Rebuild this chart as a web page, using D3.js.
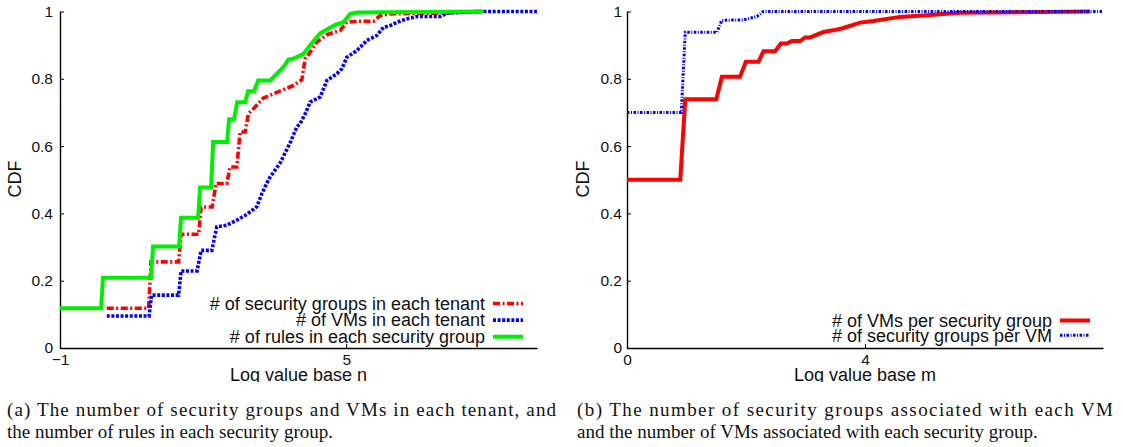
<!DOCTYPE html>
<html><head><meta charset="utf-8">
<script src="https://cdn.jsdelivr.net/npm/d3@7"></script>
<style>
html,body{margin:0;padding:0;background:#fff;}
svg{display:block;}
.tick text{font-family:"Liberation Sans",Arial,sans-serif;font-size:15.5px;fill:#111;}
</style></head>
<body>
<svg id="chart" width="1123" height="447"></svg>
<script>
// ---------- DATA ----------
// Left panel (a): x = log value base n, y = CDF
const secGroupsPerTenantX = [-0.02,0.857,0.909,1.486,1.538,1.905,1.958,2.189,2.273,2.497,2.566,2.707,2.776,2.881,2.950,3.055,3.265,3.405,3.684,3.894,4.070,4.140,4.245,4.385,4.595,4.874,5.014,5.224,5.572,5.713,5.923,6.902,7.874];
const secGroupsPerTenantY = [0.118,0.118,0.256,0.256,0.338,0.338,0.419,0.419,0.489,0.489,0.538,0.538,0.642,0.642,0.696,0.711,0.743,0.751,0.768,0.780,0.797,0.860,0.879,0.909,0.931,0.944,0.968,0.971,0.971,0.988,0.993,0.995,1.0];
const vmsPerTenantX = [-0.02,0.867,0.919,1.486,1.538,1.874,1.958,2.182,2.287,2.497,2.707,2.917,3.126,3.237,3.336,3.405,3.615,3.825,3.965,4.035,4.140,4.245,4.454,4.595,4.804,4.909,5.014,5.224,5.434,5.644,5.782,5.923,6.063,6.273,6.483,6.972,7.112,7.741,9.0];
const vmsPerTenantY = [0.095,0.095,0.157,0.157,0.229,0.229,0.290,0.290,0.360,0.365,0.380,0.397,0.420,0.460,0.490,0.508,0.550,0.610,0.657,0.667,0.696,0.731,0.746,0.795,0.815,0.830,0.864,0.884,0.914,0.929,0.953,0.958,0.968,0.978,0.985,0.985,0.995,1.0,1.0];
const rulesPerGroupX = [-1,-0.14,-0.098,0.909,0.951,1.496,1.538,1.895,1.937,2.168,2.210,2.503,2.545,2.650,2.713,2.881,2.944,3.070,3.154,3.405,3.615,3.684,3.789,3.894,4.104,4.245,4.454,4.769,4.943,5.084,5.224,7.874];
const rulesPerGroupY = [0.118,0.118,0.209,0.209,0.302,0.302,0.387,0.387,0.477,0.477,0.612,0.612,0.680,0.680,0.730,0.730,0.763,0.763,0.795,0.795,0.825,0.835,0.857,0.860,0.874,0.900,0.935,0.960,0.968,0.993,0.997,1.0];
// Right panel (b): x = log value base m
const vmsPerGroupX = [0,0.895,0.979,1.5,1.595,1.9,1.998,2.21,2.294,2.49,2.586,2.687,2.771,2.91,2.994,3.078,3.30,3.47,3.637,3.917,4.14,4.59,5.04,5.6,6.6,7.78];
const vmsPerGroupY = [0.5,0.5,0.739,0.739,0.806,0.806,0.851,0.851,0.882,0.882,0.905,0.905,0.912,0.912,0.923,0.923,0.939,0.944,0.951,0.967,0.972,0.984,0.989,0.996,0.998,1.0];
const groupsPerVmX = [0,0.912,0.979,1.511,1.595,1.958,2.183,2.294,8];
const groupsPerVmY = [0.70,0.70,0.938,0.938,0.974,0.975,0.985,1.0,1.0];

const yTicks = [0,0.2,0.4,0.6,0.8,1];
const leftXTicks = [-1,5];
const rightXTicks = [0,4];
const leftLegend = ["# of security groups in each tenant","# of VMs in each tenant","# of rules in each security group"];
const rightLegend = ["# of VMs per security group","# of security groups per VM"];
const xLabels = ["Log value base n","Log value base m"];
const yLabel = "CDF";
const captionA = ["(a) The number of security groups and VMs in each tenant, and","the number of rules in each security group."];
const captionB = ["(b) The number of security groups associated with each VM","and the number of VMs associated with each security group."];

// ---------- DRAW ----------
const svg = d3.select("#chart");
const sans = '"Liberation Sans",Arial,sans-serif';
const serif = '"Liberation Serif","Times New Roman",serif';
const y = d3.scaleLinear().domain([0,1]).range([348,11.5]);

svg.append("defs").append("clipPath").attr("id","clipAll")
  .append("rect").attr("x",0).attr("y",0).attr("width",1123).attr("height",382);

const styles = {
  red:  {stroke:"#ff0000", w:3.6, dash:"7,2.5,2,2.5"},
  blue: {stroke:"#0000ff", w:3.6, dash:"3,1.6"},
  green:{stroke:"#00ee00", w:4, dash:null},
  redS: {stroke:"#ff0000", w:4, dash:null},
  blueDD:{stroke:"#0000ff", w:3, dash:"2.5,1.5,1,1.5"}
};

function panel(cfg){
  const g = svg.append("g").attr("clip-path","url(#clipAll)");
  const x = d3.scaleLinear().domain(cfg.xDomain).range(cfg.xRange);
  // axes
  const ax = g.append("g").attr("transform","translate(0,348)")
    .call(d3.axisBottom(x).tickValues(cfg.xTicks).tickFormat(d3.format("d")).tickSizeInner(-4).tickSizeOuter(0).tickPadding(6));
  const ay = g.append("g").attr("transform",`translate(${cfg.xRange[0]},0)`)
    .call(d3.axisLeft(y).tickValues(yTicks).tickFormat(d=> d===0||d===1? String(d): d3.format(".1f")(d)).tickSizeInner(-4).tickSizeOuter(0).tickPadding(cfg.yPad));
  [ax,ay].forEach(a=>{
    a.select(".domain").attr("stroke","#000").attr("stroke-width",1.4);
    a.selectAll(".tick line").attr("stroke","#000").attr("stroke-width",1);
  });
  ax.selectAll(".tick text").attr("dy","0.71em");
  // series
  const line = d3.line().x(d=>x(d[0])).y(d=>y(d[1]));
  cfg.series.forEach(s=>{
    const pts = s.xs.map((v,i)=>[v,s.ys[i]]);
    const st = styles[s.style];
    g.append("path").datum(pts).attr("d",line)
      .attr("fill","none").attr("stroke",st.stroke).attr("stroke-width",st.w)
      .attr("stroke-linejoin","miter").attr("stroke-dasharray",st.dash);
  });
  // legend
  cfg.legend.forEach((t,i)=>{
    const yy = cfg.legY + i*cfg.legStep;
    g.append("text").attr("x",cfg.legTextX).attr("y",yy).attr("dy","0.35em")
      .attr("text-anchor","end").attr("font-family",sans).attr("font-size",18).attr("fill","#111").text(t);
    const st = styles[cfg.series[cfg.legOrder[i]].style];
    g.append("line").attr("x1",cfg.legLine[0]).attr("x2",cfg.legLine[1]).attr("y1",yy).attr("y2",yy)
      .attr("stroke",st.stroke).attr("stroke-width",st.w).attr("stroke-dasharray",st.dash);
  });
  // axis labels
  g.append("text").attr("x",(cfg.xRange[0]+cfg.xRange[1])/2).attr("y",381)
    .attr("text-anchor","middle").attr("font-family",sans).attr("font-size",18).attr("fill","#111").text(cfg.xLabel);
  g.append("text").attr("transform",`translate(${cfg.yLabX},179) rotate(-90)`).attr("dy","0.35em")
    .attr("text-anchor","middle").attr("font-family",sans).attr("font-size",18).attr("fill","#111").text(yLabel);
}

panel({
  xDomain:[-1,9], xRange:[60,537], xTicks:leftXTicks, yPad:7, yLabX:15,
  series:[
    {xs:secGroupsPerTenantX, ys:secGroupsPerTenantY, style:"red"},
    {xs:vmsPerTenantX, ys:vmsPerTenantY, style:"blue"},
    {xs:rulesPerGroupX, ys:rulesPerGroupY, style:"green"}
  ],
  legend:leftLegend, legOrder:[0,1,2], legY:303.5, legStep:16.6, legTextX:485, legLine:[493,523],
  xLabel:xLabels[0]
});
panel({
  xDomain:[0,8], xRange:[627,1103], xTicks:rightXTicks, yPad:5, yLabX:583,
  series:[
    {xs:vmsPerGroupX, ys:vmsPerGroupY, style:"redS"},
    {xs:groupsPerVmX, ys:groupsPerVmY, style:"blueDD"}
  ],
  legend:rightLegend, legOrder:[0,1], legY:320.5, legStep:14.8, legTextX:1052, legLine:[1060,1090],
  xLabel:xLabels[1]
});

// captions
function caption(lines, x0, width){
  lines.forEach((t,i)=>{
    const tx = svg.append("text").attr("x",x0).attr("y",416+i*21.5)
      .attr("font-family",serif).attr("font-size",19).attr("fill","#111").text(t);
    if(i===0){ tx.attr("textLength",width).attr("lengthAdjust","spacing"); }
  });
}
caption(captionA, 7, 549);
caption(captionB, 577, 536);
</script>
</body></html>
